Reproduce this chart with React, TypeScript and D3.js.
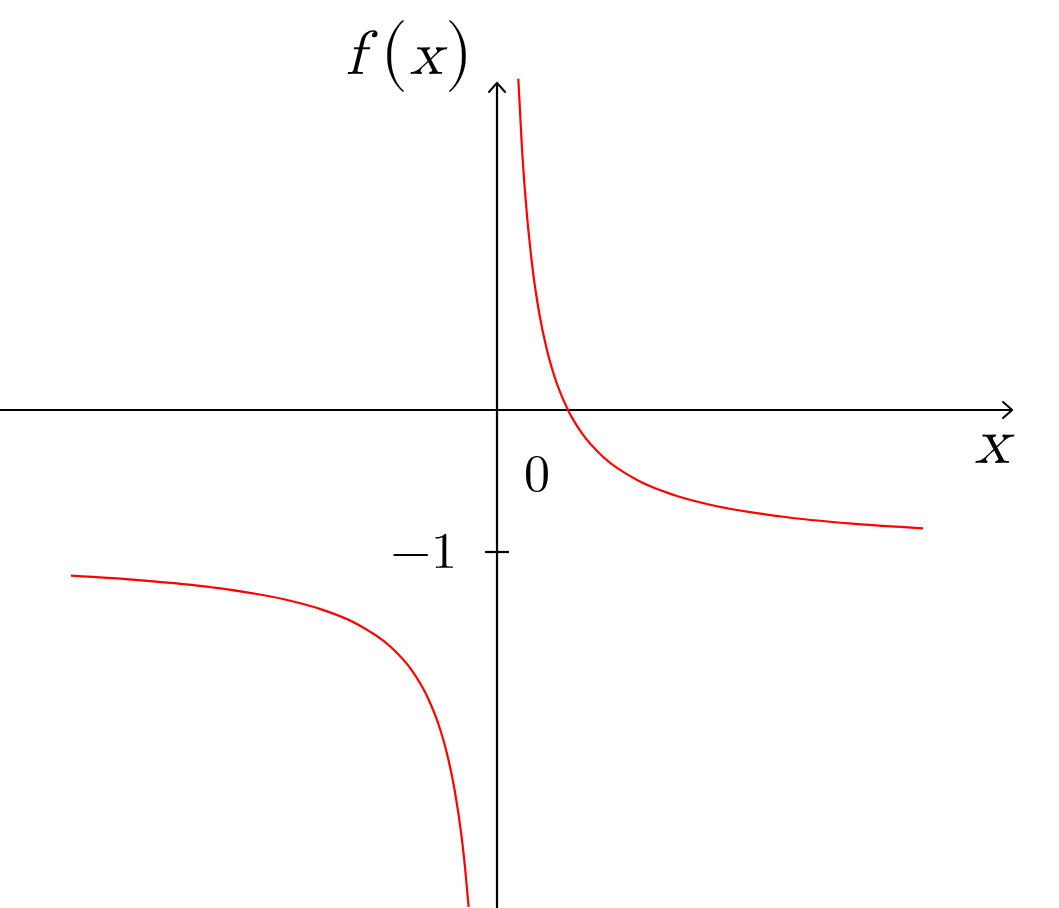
import React from "react";
import * as d3 from "d3";

const rightX = [0.3, 0.35, 0.4, 0.5, 0.6, 0.7, 0.8, 1, 1.2, 1.5, 2, 2.5, 3, 4, 5, 6];
const rightY = [2.333, 1.857, 1.5, 1, 0.667, 0.429, 0.25, 0, -0.167, -0.333, -0.5, -0.6, -0.667, -0.75, -0.8, -0.833];
const leftX = [-6, -5, -4, -3, -2.5, -2, -1.5, -1.2, -1, -0.8, -0.7, -0.6, -0.5, -0.45, -0.4];
const leftY = [-1.167, -1.2, -1.25, -1.333, -1.4, -1.5, -1.667, -1.833, -2, -2.25, -2.429, -2.667, -3, -3.222, -3.5];
const yTicks = [-1];
const xTickLabel = "0";
const xLabel = "x";

const W = 1059;
const H = 908;

export default function App() {
  const x = d3.scaleLinear().domain([0, 1]).range([497, 568]);
  const y = d3.scaleLinear().domain([0, -1]).range([410, 552]);

  const line = d3
    .line<[number, number]>()
    .x((d) => x(d[0]))
    .y((d) => y(d[1]))
    .curve(d3.curveMonotoneX);

  const right = rightX.map((v, i) => [v, rightY[i]] as [number, number]);
  const left = leftX.map((v, i) => [v, leftY[i]] as [number, number]);

  const x0 = x(0);
  const y0 = y(0);
  const xEnd = 1012;
  const yTop = 83;
  const font = "'Latin Modern Math', 'Liberation Serif', 'DejaVu Serif', serif";

  const arrow = (tx: number, ty: number, dir: "right" | "up") => {
    const L = 9;
    const S = 8;
    if (dir === "right") {
      return `M${tx - L},${ty - S} Q${tx - 2},${ty - 2} ${tx},${ty} Q${tx - 2},${ty + 2} ${tx - L},${ty + S}`;
    }
    return `M${tx - S},${ty + L} Q${tx - 2},${ty + 2} ${tx},${ty} Q${tx + 2},${ty + 2} ${tx + S},${ty + L}`;
  };

  return (
    <svg
      width={W}
      height={H}
      style={{ position: "absolute", left: 0, top: 0, background: "#fff" }}
    >
      <rect width={W} height={H} fill="#fff" />
      {/* axes */}
      <line x1={0} y1={y0} x2={xEnd} y2={y0} stroke="#000" strokeWidth={2.2} />
      <line x1={x0} y1={H} x2={x0} y2={yTop} stroke="#000" strokeWidth={2.2} />
      <path d={arrow(xEnd, y0, "right")} fill="none" stroke="#000" strokeWidth={2} strokeLinecap="round" />
      <path d={arrow(x0, yTop, "up")} fill="none" stroke="#000" strokeWidth={2} strokeLinecap="round" />
      {/* y ticks */}
      {yTicks.map((t) => (
        <g key={t}>
          <line x1={x0 - 12} x2={x0 + 12} y1={y(t)} y2={y(t)} stroke="#000" strokeWidth={2.2} />
          <text x={457} y={y(t) + 16} textAnchor="end" fontFamily={font} fontSize={52}>
            {"\u2212" + Math.abs(t)}
          </text>
        </g>
      ))}
      <text x={537} y={491} textAnchor="middle" fontFamily={font} fontSize={52}>
        {xTickLabel}
      </text>
      <text x={992} y={463} textAnchor="middle" fontFamily={font} fontStyle="italic" fontSize={66}>
        {xLabel}
      </text>
      {/* f(x) label */}
      <g fontFamily={font}>
        <text x={355} y={74} textAnchor="middle" fontStyle="italic" fontSize={62}>f</text>
        <text x={394} y={74} textAnchor="middle" fontSize={72}>(</text>
        <text x={426} y={74} textAnchor="middle" fontStyle="italic" fontSize={62}>x</text>
        <text x={459} y={74} textAnchor="middle" fontSize={72}>)</text>
      </g>
      {/* curves */}
      <path d={line(left) || ""} fill="none" stroke="#ff0000" strokeWidth={2.2} />
      <path d={line(right) || ""} fill="none" stroke="#ff0000" strokeWidth={2.2} />
    </svg>
  );
}
